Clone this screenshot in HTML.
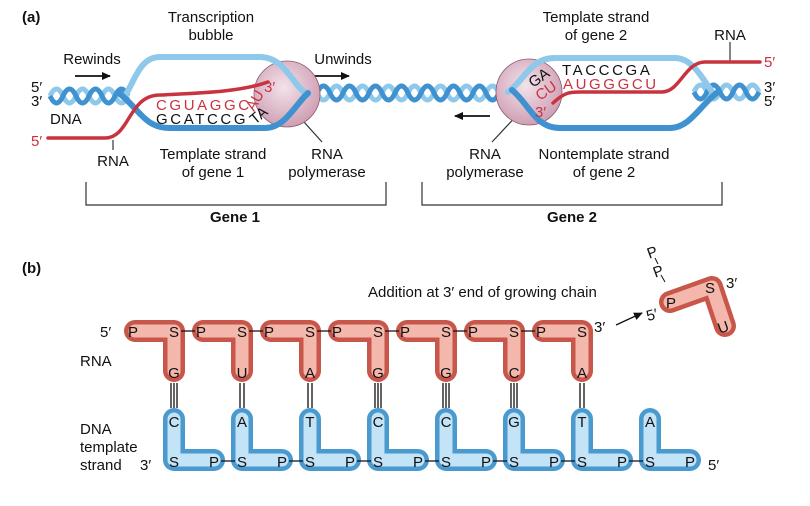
<!DOCTYPE html>
<html><head><meta charset="utf-8"><style>
html,body{margin:0;padding:0;background:#fff;}
svg{display:block;font-family:"Liberation Sans",sans-serif;}
</style></head><body>
<svg width="810" height="506" viewBox="0 0 810 506" xmlns="http://www.w3.org/2000/svg">
<defs>
<radialGradient id="pol" cx="0.45" cy="0.4" r="0.6"><stop offset="0" stop-color="#f3e3ea"/><stop offset="1" stop-color="#cf9fb4"/></radialGradient>
<marker id="ar" markerWidth="9" markerHeight="8" refX="8" refY="4" orient="auto" markerUnits="userSpaceOnUse"><path d="M0,0 L9,4 L0,8 z" fill="#111"/></marker>
</defs>
<g font-size="15" fill="#111">
<text x="22" y="22" font-weight="bold">(a)</text>
<text x="22" y="273" font-weight="bold">(b)</text>
<text x="211" y="22" text-anchor="middle">Transcription</text>
<text x="211" y="40" text-anchor="middle">bubble</text>
<text x="92" y="64" text-anchor="middle">Rewinds</text>
<text x="343" y="64" text-anchor="middle">Unwinds</text>
<text x="596" y="22" text-anchor="middle">Template strand</text>
<text x="596" y="40" text-anchor="middle">of gene 2</text>
<text x="730" y="40" text-anchor="middle">RNA</text>
<text x="31" y="92">5′</text><text x="31" y="106">3′</text>
<text x="50" y="124">DNA</text>
<text x="113" y="166" text-anchor="middle">RNA</text>
<text x="213" y="159" text-anchor="middle">Template strand</text>
<text x="213" y="177" text-anchor="middle">of gene 1</text>
<text x="327" y="159" text-anchor="middle">RNA</text>
<text x="327" y="177" text-anchor="middle">polymerase</text>
<text x="485" y="159" text-anchor="middle">RNA</text>
<text x="485" y="177" text-anchor="middle">polymerase</text>
<text x="604" y="159" text-anchor="middle">Nontemplate strand</text>
<text x="604" y="177" text-anchor="middle">of gene 2</text>
<text x="764" y="92">3′</text><text x="764" y="106">5′</text>
<text x="235" y="222" text-anchor="middle" font-weight="bold">Gene 1</text>
<text x="572" y="222" text-anchor="middle" font-weight="bold">Gene 2</text>
</g>
<g fill="#c8333f" font-size="15"><text x="31" y="146">5′</text><text x="764" y="67">5′</text></g>
<g stroke="#333" fill="none" stroke-width="1.2">
<path d="M86 182 V205 H386 V182"/><path d="M422 182 V205 H722 V182"/>
<path d="M113 140 V150"/><path d="M730 42 V62"/>
<path d="M304 122 L322 142"/><path d="M520 112 L492 142"/>
</g>
<g stroke="#111" stroke-width="1.8" marker-end="url(#ar)"><path d="M75 76 H110"/><path d="M314 76 H349"/><path d="M490 116 H455"/></g>
<g fill="none" stroke-width="5">
<path d="M50 96 q6.5 -14 13 0 t13 0 t13 0 t13 0 t13 0 t13 0" stroke="#8ec8ea"/>
<path d="M50 96 q6.5 14 13 0 t13 0 t13 0 t13 0 t13 0 t13 0" stroke="#3f92cf"/>
<path d="M304 93 q6.5 -14 13 0 t13 0 t13 0 t13 0 t13 0 t13 0 t13 0 t13 0 t13 0 t13 0 t13 0 t13 0 t13 0 t13 0 t13 0 t13 0" stroke="#8ec8ea"/>
<path d="M304 93 q6.5 14 13 0 t13 0 t13 0 t13 0 t13 0 t13 0 t13 0 t13 0 t13 0 t13 0 t13 0 t13 0 t13 0 t13 0 t13 0 t13 0" stroke="#3f92cf"/>
<path d="M694 92 q6.5 -14 13 0 t13 0 t13 0 t13 0 t13 0" stroke="#8ec8ea"/>
<path d="M694 92 q6.5 14 13 0 t13 0 t13 0 t13 0 t13 0" stroke="#3f92cf"/>
</g>
<circle cx="287" cy="94" r="33" fill="url(#pol)" stroke="#8a5a70" stroke-width="0.8"/>
<circle cx="529" cy="92" r="33" fill="url(#pol)" stroke="#8a5a70" stroke-width="0.8"/>
<g fill="none" stroke-linejoin="round" stroke-linecap="round">
<path d="M125 96 C135 80 140 57 160 57 H260 C285 57 292 85 308 95" stroke="#8ec8ea" stroke-width="6"/>
<path d="M120 94 C140 110 145 128 170 128 H265 C285 128 295 105 308 93" stroke="#3f92cf" stroke-width="6"/>
<path d="M48 138 H105 C130 138 128 95 160 95 C200 93 240 92 268 82" stroke="#c8333f" stroke-width="3.5"/>
<path d="M508 92 C525 80 530 58 555 58 H675 C695 58 705 85 715 95" stroke="#8ec8ea" stroke-width="6"/>
<path d="M512 90 C530 105 535 128 560 128 H670 C690 128 700 105 718 92" stroke="#3f92cf" stroke-width="6"/>
<path d="M553 103 C565 92 570 92 580 92 H662 C680 92 685 62 705 62 H760" stroke="#c8333f" stroke-width="3.5"/>
</g>
<g font-size="15" letter-spacing="2.6">
<text x="156" y="110" fill="#c8333f">CGUAGGC</text>
<text x="156" y="124" fill="#111">GCATCCG</text>
<text x="562" y="75" fill="#111">TACCCGA</text>
<text x="563" y="89" fill="#c8333f">AUGGGCU</text>
</g>
<g font-size="15">
<text transform="translate(254,112) rotate(-60)" fill="#c8333f">AU</text>
<text transform="translate(255,125) rotate(-40)" fill="#111">TA</text>
<text x="264" y="92" fill="#c8333f">3′</text>
<text transform="translate(533,88) rotate(-35)" fill="#111">GA</text>
<text transform="translate(540,101) rotate(-35)" fill="#c8333f">CU</text>
<text x="535" y="117" fill="#c8333f">3′</text>
</g>
<g fill="none" stroke-linejoin="round" stroke-linecap="round">
<g id="rna">
<path d="M135 331 H174 V371" stroke="#c9564b" stroke-width="22"/>
<path d="M135 331 H174 V371" stroke="#f4b7ab" stroke-width="13"/>
</g>
<use href="#rna" x="68"/><use href="#rna" x="136"/><use href="#rna" x="204"/><use href="#rna" x="272"/><use href="#rna" x="340"/><use href="#rna" x="408"/>
<g id="dna">
<path d="M174 419 V460 H214" stroke="#4a9ad0" stroke-width="22"/>
<path d="M174 419 V460 H214" stroke="#c3e3f6" stroke-width="13"/>
</g>
<use href="#dna" x="68"/><use href="#dna" x="136"/><use href="#dna" x="204"/><use href="#dna" x="272"/><use href="#dna" x="340"/><use href="#dna" x="408"/><use href="#dna" x="476"/>
<path d="M670 302 L712 287 L725 326" stroke="#c9564b" stroke-width="22"/>
<path d="M670 302 L712 287 L725 326" stroke="#f4b7ab" stroke-width="13"/>
</g>
<g stroke="#111" stroke-width="1.3">
<path d="M181 331 H195 M249 331 H263 M317 331 H331 M385 331 H399 M453 331 H467 M521 331 H535"/>
<path d="M221 461 H235 M289 461 H303 M357 461 H371 M425 461 H439 M493 461 H507 M561 461 H575 M629 461 H643"/>
<path d="M171 383 V408 M174 383 V408 M177 383 V408"/>
<path d="M240 383 V408 M244 383 V408"/>
<path d="M308 383 V408 M312 383 V408"/>
<path d="M375 383 V408 M378 383 V408 M381 383 V408"/>
<path d="M443 383 V408 M446 383 V408 M449 383 V408"/>
<path d="M511 383 V408 M514 383 V408 M517 383 V408"/>
<path d="M580 383 V408 M584 383 V408"/>
<path d="M655 258 L658 264 M661 275 L665 282" stroke-width="1"/>
</g>
<path d="M616 325 L642 313" stroke="#111" stroke-width="1.3" marker-end="url(#ar)"/>
<g font-size="15" fill="#111" text-anchor="middle">
<text x="133" y="337">P</text><text x="201" y="337">P</text><text x="269" y="337">P</text><text x="337" y="337">P</text><text x="405" y="337">P</text><text x="473" y="337">P</text><text x="541" y="337">P</text>
<text x="174" y="337">S</text><text x="242" y="337">S</text><text x="310" y="337">S</text><text x="378" y="337">S</text><text x="446" y="337">S</text><text x="514" y="337">S</text><text x="582" y="337">S</text>
<text x="174" y="378">G</text><text x="242" y="378">U</text><text x="310" y="378">A</text><text x="378" y="378">G</text><text x="446" y="378">G</text><text x="514" y="378">C</text><text x="582" y="378">A</text>
<text x="174" y="427">C</text><text x="242" y="427">A</text><text x="310" y="427">T</text><text x="378" y="427">C</text><text x="446" y="427">C</text><text x="514" y="427">G</text><text x="582" y="427">T</text><text x="650" y="427">A</text>
<text x="174" y="467">S</text><text x="242" y="467">S</text><text x="310" y="467">S</text><text x="378" y="467">S</text><text x="446" y="467">S</text><text x="514" y="467">S</text><text x="582" y="467">S</text><text x="650" y="467">S</text>
<text x="214" y="467">P</text><text x="282" y="467">P</text><text x="350" y="467">P</text><text x="418" y="467">P</text><text x="486" y="467">P</text><text x="554" y="467">P</text><text x="622" y="467">P</text><text x="690" y="467">P</text>
<text x="671" y="308">P</text><text x="710" y="293">S</text><text transform="translate(725,332) rotate(-20)">U</text>
<text transform="translate(654,257) rotate(-20)">P</text><text transform="translate(660,276) rotate(-20)">P</text>
</g>
<g font-size="15" fill="#111">
<text x="100" y="337">5′</text><text x="594" y="332">3′</text>
<text x="646" y="319" transform="rotate(-15 655 313)">5′</text>
<text x="726" y="288">3′</text>
<text x="80" y="366">RNA</text>
<text x="80" y="434">DNA</text><text x="80" y="452">template</text><text x="80" y="470">strand</text>
<text x="140" y="470">3′</text><text x="708" y="470">5′</text>
<text x="368" y="297">Addition at 3′ end of growing chain</text>
</g>
</svg>
</body></html>
